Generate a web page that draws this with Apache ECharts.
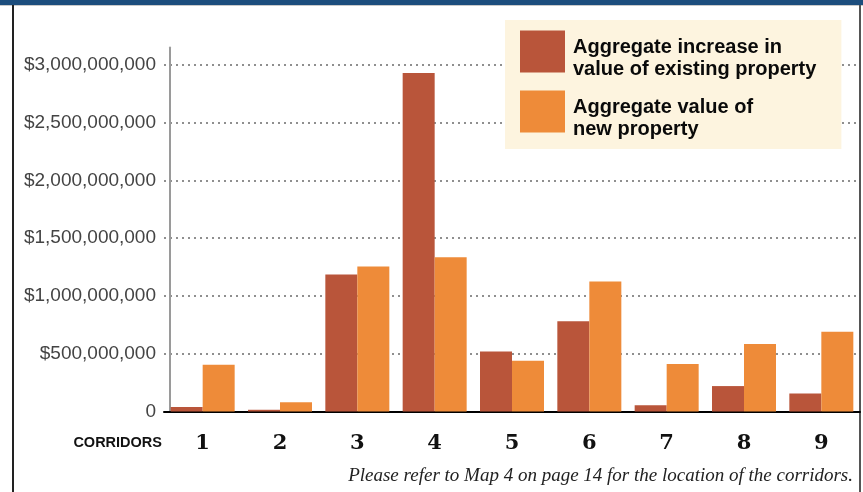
<!DOCTYPE html>
<html>
<head>
<meta charset="utf-8">
<script src="https://cdn.jsdelivr.net/npm/echarts@6/dist/echarts.min.js"></script>
<style>
html,body{margin:0;padding:0;background:#fff;}
#c{width:863px;height:492px;}
</style>
</head>
<body>
<div id="c"></div>
<script>
var categories = ['1','2','3','4','5','6','7','8','9'];
var existingIncrease = [40e6, 15e6, 1185e6, 2930e6, 520e6, 780e6, 55e6, 220e6, 155e6];
var newProperty = [405e6, 80e6, 1255e6, 1335e6, 440e6, 1125e6, 410e6, 585e6, 690e6];
var yTickValues = [0, 500e6, 1000e6, 1500e6, 2000e6, 2500e6, 3000e6];
var yTickLabels = ['0', '$500,000,000', '$1,000,000,000', '$1,500,000,000', '$2,000,000,000', '$2,500,000,000', '$3,000,000,000'];
var seriesNames = ['Aggregate increase in\nvalue of existing property', 'Aggregate value of\nnew property'];

var chart = echarts.init(document.getElementById('c'));
var sansBold = '"Liberation Sans", Arial, sans-serif';
chart.setOption({
  backgroundColor: '#ffffff',
  animation: false,
  grid: { left: 164, right: 3, top: 47.5, bottom: 80.5, containLabel: false },
  legend: {
    orient: 'vertical',
    left: 505, top: 20,
    padding: [3, 25, 10, 15],
    backgroundColor: '#fdf4df',
    itemWidth: 45, itemHeight: 42, itemGap: 4,
    icon: 'rect',
    data: seriesNames,
    formatter: function (name) {
      return '{s| }\n' + name.split('\n').map(function (l) { return '{a|' + l + '}'; }).join('\n');
    },
    textStyle: {
      padding: [0, 0, 0, 3],
      rich: {
        s: { fontSize: 1, lineHeight: 13, height: 13 },
        a: { fontFamily: sansBold, fontWeight: 'bold', fontSize: 20, lineHeight: 22, color: '#0a0a0a' }
      }
    }
  },
  xAxis: {
    type: 'category',
    data: categories,
    axisLine: { lineStyle: { color: '#000', width: 2 } },
    axisTick: { show: false },
    axisLabel: { margin: 22, fontFamily: '"DejaVu Serif", serif', fontWeight: 'bold', fontSize: 21, color: '#111' }
  },
  yAxis: {
    type: 'value',
    min: 0, max: 3150e6, interval: 500e6,
    offset: -6,
    axisLine: { show: true, lineStyle: { color: '#9a9a9a', width: 2 } },
    axisTick: { show: false },
    axisLabel: {
      showMaxLabel: false,
      margin: 14,
      fontFamily: '"Liberation Sans", Arial, sans-serif', fontSize: 19, color: '#444',
      formatter: function (v) { var i = yTickValues.indexOf(v); return i >= 0 ? yTickLabels[i] : ''; }
    },
    splitLine: { show: true, showMaxLine: false, lineStyle: { color: '#8f8f8f', width: 2, type: [2, 4] } }
  },
  series: [
    { name: seriesNames[0], type: 'bar', data: existingIncrease, barWidth: 32, barGap: '0%', itemStyle: { color: '#b9553a' } },
    { name: seriesNames[1], type: 'bar', data: newProperty, barWidth: 32, barGap: '0%', itemStyle: { color: '#ee8b39' } }
  ],
  graphic: [
    { type: 'rect', shape: { x: 0, y: 0, width: 863, height: 5 }, style: { fill: '#1c4d7d' } },
    { type: 'rect', shape: { x: 0, y: 5, width: 863, height: 1 }, style: { fill: '#c9c9c9' } },
    { type: 'rect', shape: { x: 12, y: 5, width: 2, height: 487 }, style: { fill: '#222' } },
    { type: 'rect', shape: { x: 859, y: 5, width: 2, height: 487 }, style: { fill: '#555' } },
    { type: 'text', x: 162, y: 443, style: { text: 'CORRIDORS', align: 'right', verticalAlign: 'middle', fontFamily: sansBold, fontWeight: 'bold', fontSize: 14.5, fill: '#111' } },
    { type: 'text', x: 853, y: 476, style: { text: 'Please refer to Map 4 on page 14 for the location of the corridors.', align: 'right', verticalAlign: 'middle', fontFamily: '"Liberation Serif", "DejaVu Serif", serif', fontStyle: 'italic', fontSize: 19, fill: '#222' } }
  ]
});
</script>
</body>
</html>
